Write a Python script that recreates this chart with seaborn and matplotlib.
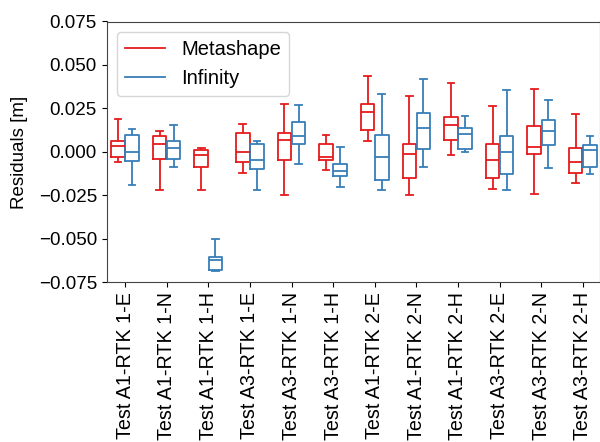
import numpy as np
import pandas as pd
import matplotlib
matplotlib.use("Agg")
import matplotlib.pyplot as plt
from matplotlib.lines import Line2D
import seaborn as sns

categories = ["Test A1-RTK 1-E", "Test A1-RTK 1-N", "Test A1-RTK 1-H",
              "Test A3-RTK 1-E", "Test A3-RTK 1-N", "Test A3-RTK 1-H",
              "Test A1-RTK 2-E", "Test A1-RTK 2-N", "Test A1-RTK 2-H",
              "Test A3-RTK 2-E", "Test A3-RTK 2-N", "Test A3-RTK 2-H"]
series = ["Metashape", "Infinity"]

# Metashape five-number summaries (min, q1, median, q3, max)
ms_min = [-0.0059, -0.0218, -0.0218, -0.0121, -0.0246, -0.0102, 0.0063, -0.0250, -0.0017, -0.0214, -0.0242, -0.0176]
ms_q1  = [-0.0032, -0.0038, -0.0087, -0.0059, -0.0047, -0.0044, 0.0127, -0.0148, 0.0066, -0.0148, -0.0011, -0.0121]
ms_med = [0.0034, 0.0044, -0.0017, -0.0002, 0.0068, -0.0028, 0.0229, -0.0010, 0.0152, -0.0045, 0.0028, -0.0059]
ms_q3  = [0.0063, 0.0089, 0.0013, 0.0108, 0.0108, 0.0045, 0.0278, 0.0045, 0.0199, 0.0045, 0.0150, 0.0023]
ms_max = [0.0188, 0.0121, 0.0021, 0.0159, 0.0273, 0.0097, 0.0434, 0.0324, 0.0394, 0.0263, 0.0360, 0.0218]

# Infinity five-number summaries
in_min = [-0.0191, -0.0089, -0.0686, -0.0218, -0.0070, -0.0203, -0.0218, -0.0087, 0.0002, -0.0220, -0.0093, -0.0127]
in_q1  = [-0.0053, -0.0042, -0.0682, -0.0097, 0.0045, -0.0138, -0.0163, 0.0017, 0.0017, -0.0127, 0.0040, -0.0087]
in_med = [-0.0002, 0.0023, -0.0619, -0.0045, 0.0089, -0.0110, -0.0027, 0.0138, 0.0102, 0.0002, 0.0123, 0.0010]
in_q3  = [0.0095, 0.0063, -0.0606, 0.0044, 0.0172, -0.0070, 0.0100, 0.0223, 0.0135, 0.0089, 0.0182, 0.0038]
in_max = [0.0129, 0.0152, -0.0500, 0.0063, 0.0267, 0.0028, 0.0335, 0.0422, 0.0206, 0.0356, 0.0299, 0.0091]

colors = {"Metashape": "#e41a1c", "Infinity": "#377eb8"}

rows = []
for name, arrs in (("Metashape", (ms_min, ms_q1, ms_med, ms_q3, ms_max)),
                   ("Infinity", (in_min, in_q1, in_med, in_q3, in_max))):
    for i, cat in enumerate(categories):
        for a in arrs:
            rows.append({"Test": cat, "Software": name, "Residual": a[i]})
df = pd.DataFrame(rows)

plt.rcParams["font.family"] = ["Liberation Sans", "DejaVu Sans"]
plt.rcParams["font.size"] = 13.5

fig = plt.figure(figsize=(6.0, 4.42), dpi=100)
ax = fig.add_axes([106.7 / 600, 1 - 282.3 / 442, (599.5 - 106.7) / 600, (282.3 - 21.5) / 442])

sns.boxplot(data=df, x="Test", y="Residual", hue="Software", order=categories,
            hue_order=series, palette=colors, fill=False, whis=(0, 100),
            width=0.68, gap=0.05, linewidth=1.3, showfliers=False, ax=ax,
            legend=False)

ax.set_ylim(-0.075, 0.075)
ax.set_yticks([-0.075, -0.05, -0.025, 0.0, 0.025, 0.05, 0.075])
ax.set_xlim(-0.44, 11.4)
ax.set_xlabel("")
ax.set_ylabel("Residuals [m]", labelpad=7.5)
ax.tick_params(axis="x", rotation=90, labelsize=14.2)
ax.tick_params(axis="y", labelsize=13.5)
for s in ax.spines.values():
    s.set_color("#444444")

handles = [Line2D([0], [0], color=colors[s], lw=1.3) for s in series]
ax.legend(handles, series, loc="upper left", fontsize=14.5)

fig.savefig("out.png", dpi=100)
